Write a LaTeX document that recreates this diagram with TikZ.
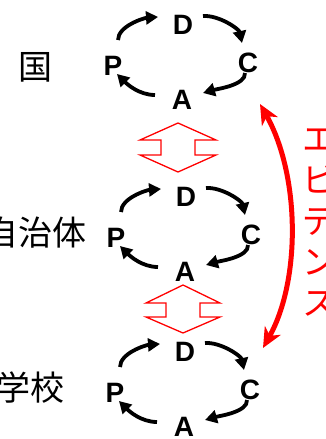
\documentclass[tikz,border=0pt]{standalone}
\usepackage{fontspec}
\setmainfont{Liberation Sans}
\newfontfamily\jpfont{Noto Sans CJK JP}
\usetikzlibrary{arrows.meta,calc}
\begin{document}
\begin{tikzpicture}[x=1pt,y=-1pt,
  letter/.style={font=\fontsize{28}{28}\selectfont\bfseries, inner sep=0pt},
  cyc/.style={line width=3.8pt, -{Triangle[length=12pt,width=13pt]}},
  lbl/.style={font=\jpfont\fontsize{34}{34}\selectfont, inner sep=0pt},
  blockarrow/.style={draw=red, line width=1.3pt, fill=white, line join=miter},
  evarrow/.style={draw=red, line width=5pt,
    {Stealth[length=20pt,width=18pt,inset=6pt]}-{Stealth[length=20pt,width=18pt,inset=6pt]}},
  evtext/.style={font=\jpfont\fontsize{34}{41}\selectfont, text=red, align=center, inner sep=0pt}]
\fill[white] (0,0) rectangle (326,439);
\useasboundingbox (0,0) rectangle (326,439);

\foreach \i/\x/\y in {1/183/25, 2/186/197, 3/185/352}{
  \node[letter] (D\i) at (\x,\y) {D};
  \node[letter] (C\i) at ($(D\i)+(65,38)$) {C};
  \node[letter] (A\i) at ($(D\i)+(-1,75)$) {A};
  \node[letter] (P\i) at ($(D\i)+(-70,41)$) {P};
  \draw[cyc] ([shift={(5,-26)}]P\i.center) .. controls +(0,-14) and +(-14,1) .. ([shift={(-25,-8)}]D\i.center);
  \draw[cyc] ([shift={(20,-9)}]D\i.center) .. controls +(16,-1) and +(-3,-14) .. ([shift={(-6,-20)}]C\i.center);
  \draw[cyc] ([shift={(-3,10)}]C\i.center) .. controls +(1,12) and +(14,-4) .. ([shift={(21,-7)}]A\i.center);
  \draw[cyc] ([shift={(-27,-5)}]A\i.center) .. controls +(-16,0) and +(10,10) .. ([shift={(4,8)}]P\i.center);
}

\node[lbl] (guo) at (35,67) {国};
\node[lbl] (jichitai) at (36,233) {自治体};
\node[lbl] (gakko) at (30,388) {学校};

\draw[blockarrow] (178,123) -- (216,140) -- (195,140) -- (195,155) -- (216,155) -- (178,172)
  -- (140,155) -- (161,155) -- (161,140) -- (140,140) -- cycle;
\draw[blockarrow] (183,285) -- (220,303) -- (200,303) -- (200,317) -- (220,317) -- (183,333)
  -- (146,317) -- (166,317) -- (166,303) -- (146,303) -- cycle;

\coordinate (ev1) at (260,104);
\coordinate (ev2) at (263,348);
\draw[evarrow] (ev1) .. controls (300,175) and (301,280) .. (ev2);
\node[evtext] (ev) at (319,223) {エ\\ビ\\デ\\ン\\ス};
\end{tikzpicture}
\end{document}
